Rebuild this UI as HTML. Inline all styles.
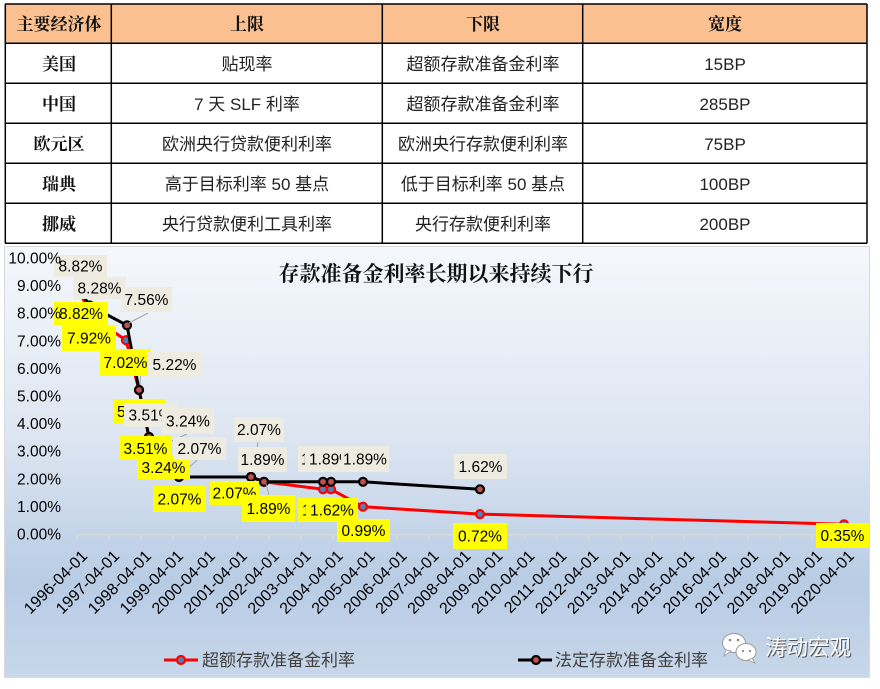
<!DOCTYPE html>
<html>
<head>
<meta charset="utf-8">
<style>
  html,body{margin:0;padding:0;background:#fff;}
  svg{display:block;}
  .cjkb{font-family:"Liberation Serif","Noto Serif CJK SC",serif;font-weight:bold;font-size:17px;fill:#111;}
  .cjk{font-family:"Liberation Sans","Noto Sans CJK SC",sans-serif;font-size:17px;fill:#222;}
  .num{font-family:"Liberation Sans",sans-serif;font-size:15.5px;fill:#000;}
  .ax{font-family:"Liberation Sans",sans-serif;font-size:15.5px;fill:#000;}
  .xl{font-family:"Liberation Sans",sans-serif;font-size:16px;fill:#000;}
  .lg{font-family:"Liberation Sans","Noto Sans CJK SC",sans-serif;font-size:17px;fill:#404040;}
</style>
</head>
<body>
<svg width="880" height="689" viewBox="0 0 880 689" xmlns="http://www.w3.org/2000/svg">
  <defs>
    <linearGradient id="bg" x1="0" y1="0" x2="0" y2="1">
      <stop offset="0" stop-color="#F5F8FC"/>
      <stop offset="0.45" stop-color="#DCE5F1"/>
      <stop offset="0.78" stop-color="#B8CCE4"/>
      <stop offset="1" stop-color="#C8D7EA"/>
    </linearGradient>
  </defs>

  <!-- ===== TABLE ===== -->
  <rect x="5" y="4" width="862" height="39" fill="#FAC08F"/>
  <g stroke="#000" stroke-width="1.5" fill="none">
    <line x1="5" y1="4" x2="867" y2="4"/>
    <line x1="5" y1="43.3" x2="867" y2="43.3"/>
    <line x1="5" y1="83.3" x2="867" y2="83.3"/>
    <line x1="5" y1="123.3" x2="867" y2="123.3"/>
    <line x1="5" y1="163.3" x2="867" y2="163.3"/>
    <line x1="5" y1="203.3" x2="867" y2="203.3"/>
    <line x1="5" y1="243.3" x2="867" y2="243.3"/>
    <line x1="5.3" y1="4" x2="5.3" y2="243.3"/>
    <line x1="111.3" y1="4" x2="111.3" y2="243.3"/>
    <line x1="382.3" y1="4" x2="382.3" y2="243.3"/>
    <line x1="582.7" y1="4" x2="582.7" y2="243.3"/>
    <line x1="867" y1="4" x2="867" y2="243.3"/>
  </g>
  <g text-anchor="middle">
    <text class="cjkb" x="59" y="30">主要经济体</text>
    <text class="cjkb" x="247" y="30">上限</text>
    <text class="cjkb" x="483" y="30">下限</text>
    <text class="cjkb" x="725" y="30">宽度</text>

    <text class="cjkb" x="59" y="70">美国</text>
    <text class="cjkb" x="59" y="110">中国</text>
    <text class="cjkb" x="59" y="150">欧元区</text>
    <text class="cjkb" x="59" y="190">瑞典</text>
    <text class="cjkb" x="59" y="230">挪威</text>

    <text class="cjk" x="247" y="70">贴现率</text>
    <text class="cjk" x="247" y="110">7 天 SLF 利率</text>
    <text class="cjk" x="247" y="150">欧洲央行贷款便利利率</text>
    <text class="cjk" x="247" y="190">高于目标利率 50 基点</text>
    <text class="cjk" x="247" y="230">央行贷款便利工具利率</text>

    <text class="cjk" x="483" y="70">超额存款准备金利率</text>
    <text class="cjk" x="483" y="110">超额存款准备金利率</text>
    <text class="cjk" x="483" y="150">欧洲央行存款便利利率</text>
    <text class="cjk" x="483" y="190">低于目标利率 50 基点</text>
    <text class="cjk" x="483" y="230">央行存款便利利率</text>

    <text class="cjk" x="725" y="70">15BP</text>
    <text class="cjk" x="725" y="110">285BP</text>
    <text class="cjk" x="725" y="150">75BP</text>
    <text class="cjk" x="725" y="190">100BP</text>
    <text class="cjk" x="725" y="230">200BP</text>
  </g>

  <!-- ===== CHART ===== -->
  <rect x="4.5" y="246.5" width="865" height="431" fill="url(#bg)" stroke="#D9D9D9" stroke-width="1"/>

  <!-- x axis -->
  <g stroke="#D9D9D9" stroke-width="1.3">
    <line x1="77.3" y1="534.5" x2="845" y2="534.5"/>
    <line x1="77.3" y1="534" x2="77.3" y2="540"/>
    <line x1="109.25" y1="534" x2="109.25" y2="540"/>
    <line x1="141.2" y1="534" x2="141.2" y2="540"/>
    <line x1="173.15" y1="534" x2="173.15" y2="540"/>
    <line x1="205.1" y1="534" x2="205.1" y2="540"/>
    <line x1="237.05" y1="534" x2="237.05" y2="540"/>
    <line x1="269" y1="534" x2="269" y2="540"/>
    <line x1="300.95" y1="534" x2="300.95" y2="540"/>
    <line x1="332.9" y1="534" x2="332.9" y2="540"/>
    <line x1="364.85" y1="534" x2="364.85" y2="540"/>
    <line x1="396.8" y1="534" x2="396.8" y2="540"/>
    <line x1="428.75" y1="534" x2="428.75" y2="540"/>
    <line x1="460.7" y1="534" x2="460.7" y2="540"/>
    <line x1="492.65" y1="534" x2="492.65" y2="540"/>
    <line x1="524.6" y1="534" x2="524.6" y2="540"/>
    <line x1="556.55" y1="534" x2="556.55" y2="540"/>
    <line x1="588.5" y1="534" x2="588.5" y2="540"/>
    <line x1="620.45" y1="534" x2="620.45" y2="540"/>
    <line x1="652.4" y1="534" x2="652.4" y2="540"/>
    <line x1="684.35" y1="534" x2="684.35" y2="540"/>
    <line x1="716.3" y1="534" x2="716.3" y2="540"/>
    <line x1="748.25" y1="534" x2="748.25" y2="540"/>
    <line x1="780.2" y1="534" x2="780.2" y2="540"/>
    <line x1="812.15" y1="534" x2="812.15" y2="540"/>
    <line x1="844.1" y1="534" x2="844.1" y2="540"/>
  </g>

  <!-- x labels -->
  <g class="xl" text-anchor="end">
    <text x="88.3" y="557" transform="rotate(-45 88.3 557)">1996-04-01</text>
    <text x="120.25" y="557" transform="rotate(-45 120.25 557)">1997-04-01</text>
    <text x="152.2" y="557" transform="rotate(-45 152.2 557)">1998-04-01</text>
    <text x="184.15" y="557" transform="rotate(-45 184.15 557)">1999-04-01</text>
    <text x="216.1" y="557" transform="rotate(-45 216.1 557)">2000-04-01</text>
    <text x="248.05" y="557" transform="rotate(-45 248.05 557)">2001-04-01</text>
    <text x="280" y="557" transform="rotate(-45 280 557)">2002-04-01</text>
    <text x="311.95" y="557" transform="rotate(-45 311.95 557)">2003-04-01</text>
    <text x="343.9" y="557" transform="rotate(-45 343.9 557)">2004-04-01</text>
    <text x="375.85" y="557" transform="rotate(-45 375.85 557)">2005-04-01</text>
    <text x="407.8" y="557" transform="rotate(-45 407.8 557)">2006-04-01</text>
    <text x="439.75" y="557" transform="rotate(-45 439.75 557)">2007-04-01</text>
    <text x="471.7" y="557" transform="rotate(-45 471.7 557)">2008-04-01</text>
    <text x="503.65" y="557" transform="rotate(-45 503.65 557)">2009-04-01</text>
    <text x="535.6" y="557" transform="rotate(-45 535.6 557)">2010-04-01</text>
    <text x="567.55" y="557" transform="rotate(-45 567.55 557)">2011-04-01</text>
    <text x="599.5" y="557" transform="rotate(-45 599.5 557)">2012-04-01</text>
    <text x="631.45" y="557" transform="rotate(-45 631.45 557)">2013-04-01</text>
    <text x="663.4" y="557" transform="rotate(-45 663.4 557)">2014-04-01</text>
    <text x="695.35" y="557" transform="rotate(-45 695.35 557)">2015-04-01</text>
    <text x="727.3" y="557" transform="rotate(-45 727.3 557)">2016-04-01</text>
    <text x="759.25" y="557" transform="rotate(-45 759.25 557)">2017-04-01</text>
    <text x="791.2" y="557" transform="rotate(-45 791.2 557)">2018-04-01</text>
    <text x="823.15" y="557" transform="rotate(-45 823.15 557)">2019-04-01</text>
    <text x="855.1" y="557" transform="rotate(-45 855.1 557)">2020-04-01</text>
  </g>

  <!-- red series -->
  <polyline fill="none" stroke="#FF0000" stroke-width="3" stroke-linejoin="round" stroke-linecap="round"
    points="80,290.6 89.5,315.4 126,340.2 139,390 149,437 163,444.6 179,477 251,477 264,481.8 323,489.3 331,489.3 363,506.7 480,514.1 844,524.3"/>
  <g fill="#4F81BD" stroke="#FF0000" stroke-width="2.2">
    <circle cx="80" cy="290.6" r="4"/>
    <circle cx="89.5" cy="315.4" r="4"/>
    <circle cx="126" cy="340.2" r="4"/>
    <circle cx="139" cy="390" r="4"/>
    <circle cx="149" cy="437" r="4"/>
    <circle cx="163" cy="444.6" r="4"/>
    <circle cx="179" cy="477" r="4"/>
    <circle cx="251" cy="477" r="4"/>
    <circle cx="264" cy="481.8" r="4"/>
    <circle cx="323" cy="489.3" r="4"/>
    <circle cx="331" cy="489.3" r="4"/>
    <circle cx="363" cy="506.7" r="4"/>
    <circle cx="480" cy="514.1" r="4"/>
    <circle cx="844" cy="524.3" r="4"/>
  </g>

  <!-- black series -->
  <polyline fill="none" stroke="#000" stroke-width="3" stroke-linejoin="round" stroke-linecap="round"
    points="80,290.6 89.5,305.5 127,325.3 139,390 149,437 163,444.6 179,477 251,477 264,481.8 323,481.8 331,481.8 363,481.8 480,489.3"/>
  <g fill="#C0504D" stroke="#000" stroke-width="2.2">
    <circle cx="80" cy="290.6" r="4"/>
    <circle cx="89.5" cy="305.5" r="4"/>
    <circle cx="127" cy="325.3" r="4"/>
    <circle cx="139" cy="390" r="4"/>
    <circle cx="149" cy="437" r="4"/>
    <circle cx="163" cy="444.6" r="4"/>
    <circle cx="179" cy="477" r="4"/>
    <circle cx="251" cy="477" r="4"/>
    <circle cx="264" cy="481.8" r="4"/>
    <circle cx="323" cy="481.8" r="4"/>
    <circle cx="331" cy="481.8" r="4"/>
    <circle cx="363" cy="481.8" r="4"/>
    <circle cx="480" cy="489.3" r="4"/>
  </g>

  <!-- leader lines -->
  <g stroke="#A6A6A6" stroke-width="1" fill="none">
    <line x1="148" y1="313" x2="129" y2="323"/>
    <line x1="141" y1="366" x2="140" y2="385"/>
    <line x1="187" y1="434" x2="167" y2="443"/>
    <line x1="198" y1="459" x2="181" y2="475"/>
    <line x1="266" y1="484" x2="269" y2="495"/>
    <line x1="258" y1="442" x2="254" y2="472"/>
  </g>

  <!-- yellow labels (red series) -->
  <g>
    <rect x="54" y="302" width="54" height="23" fill="#FFFF00"/>
    <text class="num" x="81" y="319" text-anchor="middle">8.82%</text>
    <rect x="62" y="325" width="54" height="26" fill="#FFFF00"/>
    <text class="num" x="89" y="343.5" text-anchor="middle">7.92%</text>
    <rect x="100" y="349" width="51" height="27" fill="#FFFF00"/>
    <text class="num" x="125.5" y="368" text-anchor="middle">7.02%</text>
    <rect x="113" y="399" width="52" height="25" fill="#FFFF00"/>
    <text class="num" x="139" y="417" text-anchor="middle">5.22%</text>
    <rect x="119" y="436" width="53" height="24" fill="#FFFF00"/>
    <text class="num" x="145.5" y="454" text-anchor="middle">3.51%</text>
    <rect x="137" y="456" width="53" height="23" fill="#FFFF00"/>
    <text class="num" x="163.5" y="473" text-anchor="middle">3.24%</text>
    <rect x="153" y="486" width="53" height="26" fill="#FFFF00"/>
    <text class="num" x="179.5" y="504.5" text-anchor="middle">2.07%</text>
    <rect x="210" y="481" width="49" height="24" fill="#FFFF00"/>
    <text class="num" x="234.5" y="498.5" text-anchor="middle">2.07%</text>
    <rect x="242" y="495" width="53" height="27" fill="#FFFF00"/>
    <text class="num" x="268.5" y="514" text-anchor="middle">1.89%</text>
    <rect x="298" y="498" width="52" height="24" fill="#FFFF00"/>
    <text class="num" x="324" y="515.5" text-anchor="middle">1.62%</text>
    <rect x="306" y="498" width="52" height="24" fill="#FFFF00"/>
    <text class="num" x="332" y="515.5" text-anchor="middle">1.62%</text>
    <rect x="337" y="519" width="53" height="23" fill="#FFFF00"/>
    <text class="num" x="363.5" y="536" text-anchor="middle">0.99%</text>
    <rect x="453" y="523" width="54" height="26" fill="#FFFF00"/>
    <text class="num" x="480" y="541.5" text-anchor="middle">0.72%</text>
    <rect x="816" y="523" width="53" height="25" fill="#FFFF00"/>
    <text class="num" x="842.5" y="541" text-anchor="middle">0.35%</text>
  </g>

  <!-- beige labels (black series) -->
  <g>
    <rect x="54" y="255" width="53" height="22" fill="#EEECE1"/>
    <text class="num" x="80.5" y="271.5" text-anchor="middle">8.82%</text>
    <rect x="73" y="277" width="53" height="22" fill="#EEECE1"/>
    <text class="num" x="99.5" y="293.5" text-anchor="middle">8.28%</text>
    <rect x="121" y="287" width="51" height="25" fill="#EEECE1"/>
    <text class="num" x="146.5" y="305" text-anchor="middle">7.56%</text>
    <rect x="148" y="352" width="53" height="25" fill="#EEECE1"/>
    <text class="num" x="174.5" y="370" text-anchor="middle">5.22%</text>
    <rect x="124" y="403" width="53" height="24" fill="#EEECE1"/>
    <text class="num" x="150.5" y="420.5" text-anchor="middle">3.51%</text>
    <rect x="162" y="408" width="52" height="26" fill="#EEECE1"/>
    <text class="num" x="188" y="426.5" text-anchor="middle">3.24%</text>
    <rect x="173" y="437" width="53" height="23" fill="#EEECE1"/>
    <text class="num" x="199.5" y="454" text-anchor="middle">2.07%</text>
    <rect x="234" y="417" width="50" height="25" fill="#EEECE1"/>
    <text class="num" x="259" y="435" text-anchor="middle">2.07%</text>
    <rect x="238" y="447" width="49" height="25" fill="#EEECE1"/>
    <text class="num" x="262.5" y="465" text-anchor="middle">1.89%</text>
    <rect x="298" y="446" width="52" height="26" fill="#EEECE1"/>
    <text class="num" x="323" y="464.5" text-anchor="middle">1.89%</text>
    <rect x="305" y="446" width="52" height="26" fill="#EEECE1"/>
    <text class="num" x="331" y="464.5" text-anchor="middle">1.89%</text>
    <rect x="341" y="446" width="48" height="26" fill="#EEECE1"/>
    <text class="num" x="365" y="464.5" text-anchor="middle">1.89%</text>
    <rect x="454" y="454" width="53" height="25" fill="#EEECE1"/>
    <text class="num" x="480.5" y="472" text-anchor="middle">1.62%</text>
  </g>

  <!-- y axis labels -->
  <g class="ax" text-anchor="end">
    <text x="61" y="263.5">10.00%</text>
    <text x="61" y="291.1">9.00%</text>
    <text x="61" y="318.7">8.00%</text>
    <text x="61" y="346.3">7.00%</text>
    <text x="61" y="373.9">6.00%</text>
    <text x="61" y="401.5">5.00%</text>
    <text x="61" y="429.1">4.00%</text>
    <text x="61" y="456.7">3.00%</text>
    <text x="61" y="484.3">2.00%</text>
    <text x="61" y="511.9">1.00%</text>
    <text x="61" y="539.5">0.00%</text>
  </g>

  <!-- title -->
  <text x="436" y="281" text-anchor="middle" style="font-family:'Liberation Serif','Noto Serif CJK SC',serif;font-weight:bold;font-size:21px;fill:#111;">存款准备金利率长期以来持续下行</text>

  <!-- legend -->
  <line x1="164" y1="660" x2="198" y2="660" stroke="#FF0000" stroke-width="3"/>
  <circle cx="181" cy="660" r="4" fill="#4F81BD" stroke="#FF0000" stroke-width="2.2"/>
  <text class="lg" x="202" y="666">超额存款准备金利率</text>
  <line x1="518" y1="660" x2="552" y2="660" stroke="#000" stroke-width="3"/>
  <circle cx="536" cy="660" r="4" fill="#C0504D" stroke="#000" stroke-width="2.2"/>
  <text class="lg" x="555" y="666">法定存款准备金利率</text>

  <!-- watermark -->
  <g>
    <ellipse cx="734" cy="643" rx="11.5" ry="9.5" fill="#FFFFFF" stroke="#9A9A9A" stroke-width="1"/>
    <path d="M726,650 L724,656 L731,651 Z" fill="#FFFFFF" stroke="#9A9A9A" stroke-width="0.8"/>
    <ellipse cx="746" cy="652" rx="10" ry="8.5" fill="#FFFFFF" stroke="#9A9A9A" stroke-width="1"/>
    <path d="M752,658 L755,663 L748,660 Z" fill="#FFFFFF" stroke="#9A9A9A" stroke-width="0.8"/>
    <circle cx="730" cy="640" r="1.3" fill="#888"/>
    <circle cx="738" cy="640" r="1.3" fill="#888"/>
    <circle cx="743" cy="651" r="1.1" fill="#888"/>
    <circle cx="750" cy="651" r="1.1" fill="#888"/>
    <text x="766" y="656" style="font-family:'Liberation Sans','Noto Sans CJK SC',sans-serif;font-size:21.5px;fill:#555;">涛动宏观</text>
    <text x="765" y="655" style="font-family:'Liberation Sans','Noto Sans CJK SC',sans-serif;font-size:21.5px;fill:#FFFFFF;">涛动宏观</text>
  </g>
</svg>
</body>
</html>
